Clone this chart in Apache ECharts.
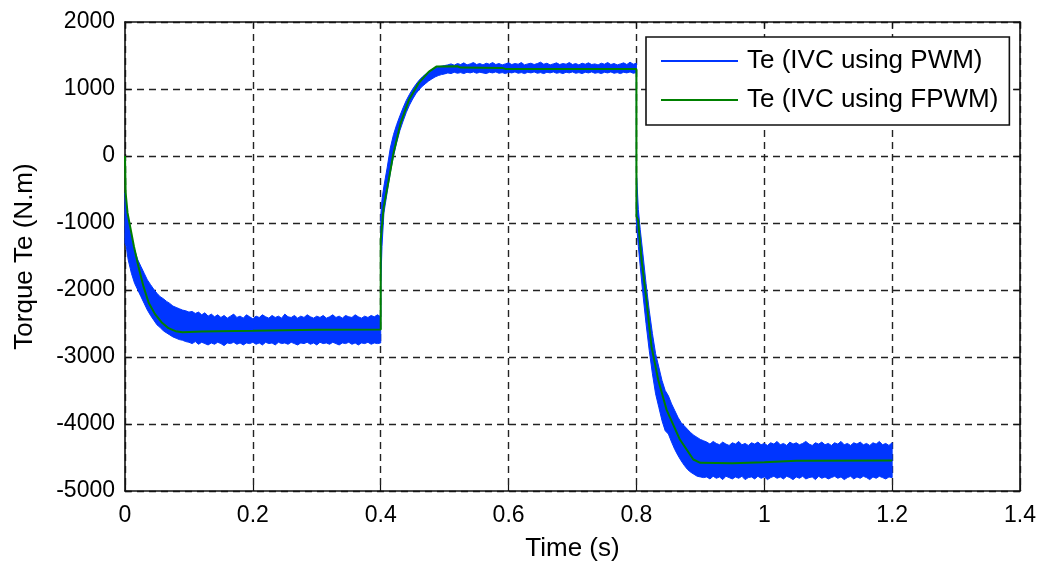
<!DOCTYPE html>
<html>
<head>
<meta charset="utf-8">
<script src="https://cdn.jsdelivr.net/npm/echarts@6/dist/echarts.min.js"></script>
<style>
html,body{margin:0;padding:0;background:#fff;}
#chart{width:1042px;height:572px;}
</style>
</head>
<body>
<div id="chart"></div>
<script>
// ---------- data ----------
var xTicks = [0, 0.2, 0.4, 0.6, 0.8, 1, 1.2, 1.4];
var yTicks = [-5000, -4000, -3000, -2000, -1000, 0, 1000, 2000];
var seriesNames = ['Te (IVC using PWM)', 'Te (IVC using FPWM)'];

// PWM torque: noisy band, rows of [time, upper envelope, lower envelope]
var pwmPhase1 = [
[0,-550,-1300],[0.002,-700,-1350],[0.005,-950,-1550],[0.01,-1200,-1750],[0.015,-1400,-1900],
[0.02,-1550,-2000],[0.025,-1650,-2100],[0.03,-1750,-2200],[0.035,-1850,-2300],[0.04,-1920,-2380],
[0.045,-1990,-2450],[0.05,-2050,-2520],[0.055,-2100,-2560],[0.06,-2130,-2610],[0.065,-2170,-2640],
[0.07,-2200,-2670],[0.075,-2240,-2700],[0.08,-2260,-2720],[0.085,-2280,-2740],[0.09,-2300,-2750],
[0.095,-2310,-2770],[0.1,-2330,-2780],
[0.105,-2320,-2800],[0.11,-2350,-2770],[0.115,-2330,-2810],[0.12,-2370,-2780],[0.125,-2340,-2800],
[0.13,-2390,-2820],[0.135,-2360,-2790],[0.14,-2400,-2810],[0.145,-2370,-2780],[0.15,-2410,-2800],
[0.155,-2380,-2830],[0.16,-2420,-2790],[0.165,-2390,-2800],[0.17,-2360,-2780],[0.175,-2410,-2810],
[0.18,-2390,-2790],[0.185,-2420,-2820],[0.19,-2370,-2790],[0.195,-2400,-2800],[0.2,-2430,-2780],
[0.205,-2390,-2810],[0.21,-2410,-2790],[0.215,-2370,-2820],[0.22,-2400,-2780],[0.225,-2420,-2800],
[0.23,-2380,-2790],[0.235,-2410,-2820],[0.24,-2390,-2780],[0.245,-2420,-2800],[0.25,-2360,-2790],
[0.255,-2400,-2810],[0.26,-2410,-2780],[0.265,-2380,-2800],[0.27,-2420,-2820],[0.275,-2390,-2790],
[0.28,-2410,-2800],[0.285,-2370,-2780],[0.29,-2400,-2810],[0.295,-2420,-2790],[0.3,-2390,-2820],
[0.305,-2410,-2780],[0.31,-2380,-2800],[0.315,-2420,-2790],[0.32,-2400,-2810],[0.325,-2370,-2780],
[0.33,-2410,-2800],[0.335,-2390,-2820],[0.34,-2420,-2790],[0.345,-2380,-2800],[0.35,-2400,-2780],
[0.355,-2410,-2810],[0.36,-2370,-2790],[0.365,-2400,-2820],[0.37,-2420,-2790],[0.375,-2390,-2800],
[0.38,-2410,-2780],[0.385,-2380,-2810],[0.39,-2400,-2790],[0.395,-2370,-2800],[0.4,-2400,-2790]
];
var pwmPhase2 = [
[0.4,-900,-1950],[0.402,-650,-1350],[0.405,-450,-850],[0.41,-180,-550],[0.415,120,-250],
[0.42,320,0],[0.425,470,200],[0.43,600,380],[0.435,720,520],[0.44,830,650],
[0.445,920,760],[0.45,1000,850],[0.455,1070,930],[0.46,1130,990],[0.465,1180,1040],
[0.47,1220,1080],[0.475,1260,1120],[0.48,1290,1150],[0.485,1310,1180],[0.49,1330,1200],
[0.495,1340,1215],[0.5,1350,1225],
[0.505,1360,1240],[0.51,1375,1230],[0.515,1355,1250],[0.52,1380,1235],[0.525,1365,1245],
[0.53,1390,1230],[0.535,1360,1250],[0.54,1375,1240],[0.545,1395,1255],[0.55,1365,1235],
[0.555,1380,1250],[0.56,1360,1240],[0.565,1385,1230],[0.57,1370,1250],[0.575,1395,1240],
[0.58,1365,1255],[0.585,1380,1235],[0.59,1360,1245],[0.595,1375,1230],[0.6,1390,1250],
[0.605,1365,1240],[0.61,1380,1255],[0.615,1370,1235],[0.62,1395,1245],[0.625,1360,1230],
[0.63,1375,1250],[0.635,1385,1240],[0.64,1365,1255],[0.645,1380,1235],[0.65,1400,1245],
[0.655,1370,1230],[0.66,1385,1250],[0.665,1360,1240],[0.67,1375,1255],[0.675,1390,1235],
[0.68,1365,1245],[0.685,1380,1230],[0.69,1370,1250],[0.695,1395,1240],[0.7,1365,1255],
[0.705,1380,1235],[0.71,1360,1245],[0.715,1385,1230],[0.72,1370,1250],[0.725,1390,1240],
[0.73,1365,1255],[0.735,1375,1235],[0.74,1360,1245],[0.745,1385,1230],[0.75,1370,1250],
[0.755,1395,1240],[0.76,1365,1255],[0.765,1380,1235],[0.77,1360,1245],[0.775,1375,1230],
[0.78,1390,1250],[0.785,1365,1240],[0.79,1400,1255],[0.795,1370,1235],[0.8,1385,1245]
];
var pwmPhase3 = [
[0.8,-230,-1000],[0.803,-800,-1350],[0.806,-1100,-1650],[0.81,-1450,-2050],[0.815,-1900,-2500],
[0.82,-2300,-2900],[0.825,-2650,-3250],[0.83,-2950,-3550],[0.835,-3150,-3750],[0.84,-3350,-3950],
[0.845,-3500,-4100],[0.85,-3580,-4150],[0.855,-3700,-4270],[0.86,-3800,-4380],[0.865,-3900,-4470],
[0.87,-3980,-4550],[0.875,-4030,-4620],[0.88,-4080,-4680],[0.885,-4130,-4720],[0.89,-4170,-4750],
[0.895,-4200,-4780],[0.9,-4230,-4790],[0.905,-4250,-4800],[0.91,-4270,-4790],
[0.915,-4300,-4820],[0.92,-4260,-4780],[0.925,-4290,-4810],[0.93,-4310,-4790],[0.935,-4270,-4830],
[0.94,-4300,-4780],[0.945,-4320,-4800],[0.95,-4280,-4820],[0.955,-4300,-4790],[0.96,-4260,-4810],
[0.965,-4310,-4780],[0.97,-4290,-4830],[0.975,-4320,-4800],[0.98,-4280,-4790],[0.985,-4300,-4820],
[0.99,-4270,-4780],[0.995,-4310,-4810],[1.0,-4290,-4790],[1.005,-4320,-4830],[1.01,-4280,-4800],
[1.015,-4300,-4780],[1.02,-4260,-4810],[1.025,-4310,-4790],[1.03,-4290,-4820],[1.035,-4320,-4780],
[1.04,-4270,-4800],[1.045,-4300,-4830],[1.05,-4280,-4790],[1.055,-4310,-4810],[1.06,-4290,-4780],
[1.065,-4260,-4820],[1.07,-4300,-4800],[1.075,-4320,-4790],[1.08,-4280,-4830],[1.085,-4300,-4780],
[1.09,-4270,-4810],[1.095,-4310,-4790],[1.1,-4290,-4820],[1.105,-4320,-4800],[1.11,-4280,-4780],
[1.115,-4300,-4810],[1.12,-4260,-4790],[1.125,-4310,-4830],[1.13,-4290,-4800],[1.135,-4320,-4780],
[1.14,-4280,-4820],[1.145,-4300,-4790],[1.15,-4270,-4810],[1.155,-4310,-4780],[1.16,-4290,-4800],
[1.165,-4320,-4830],[1.17,-4280,-4790],[1.175,-4300,-4810],[1.18,-4260,-4780],[1.185,-4310,-4800],
[1.19,-4290,-4820],[1.195,-4320,-4790],[1.2,-4280,-4800]
];

// FPWM torque: [time, value]
var fpwmTorque = [
[0,0],[0.001,-550],[0.004,-850],[0.008,-1050],[0.014,-1350],[0.021,-1650],[0.029,-1950],
[0.037,-2190],[0.047,-2360],[0.058,-2490],[0.068,-2570],[0.079,-2615],[0.09,-2630],
[0.12,-2620],[0.2,-2610],[0.3,-2595],[0.4,-2590],
[0.4,-1250],[0.4047,-755],[0.4125,-358],[0.42,45],[0.431,487],[0.444,835],[0.459,1083],
[0.475,1256],[0.487,1335],[0.52,1340],[0.525,1320],[0.59,1315],[0.595,1300],[0.8,1300],
[0.8,-900],[0.8025,-954],[0.808,-1550],[0.8156,-2146],[0.8235,-2842],[0.834,-3338],
[0.847,-3785],[0.868,-4232],[0.889,-4530],[0.9,-4580],[0.95,-4585],[1.0,-4570],
[1.05,-4550],[1.2,-4545]
];

// ---------- chart ----------
var BLUE = '#0035ff', GREEN = '#008000';
var FONT = '"Liberation Sans", Arial, sans-serif';
var pwmRows = pwmPhase1.concat(pwmPhase2, pwmPhase3);

var chart = echarts.init(document.getElementById('chart'), null, {renderer: 'canvas'});
var gridLine = {show: true, lineStyle: {color: '#222', width: 1.4, type: [7, 5]}};
var axisLineStyle = {show: true, onZero: false, lineStyle: {color: '#111', width: 1.6}};
var tickIn = {show: true, inside: true, length: 6, lineStyle: {color: '#111', width: 1.2}};
var labelStyle = {color: '#000', fontFamily: FONT, fontSize: 23};
var nameStyle = {color: '#000', fontFamily: FONT, fontSize: 26};

chart.setOption({
  animation: false,
  backgroundColor: '#fff',
  grid: {left: 125, right: 22, top: 22, bottom: 81, containLabel: false},
  legend: {
    orient: 'vertical', left: 646, top: 37,
    padding: [11, 11, 12, 15],
    itemGap: 13, itemWidth: 77, itemHeight: 2,
    backgroundColor: '#fff', borderColor: '#111', borderWidth: 1.6,
    textStyle: {color: '#000', fontFamily: FONT, fontSize: 26, padding: [0, 0, 0, 4]},
    data: [{name: seriesNames[0], icon: 'rect'}, {name: seriesNames[1], icon: 'rect'}]
  },
  xAxis: [{
    type: 'value', min: xTicks[0], max: xTicks[xTicks.length - 1], interval: 0.2,
    position: 'bottom',
    name: 'Time (s)', nameLocation: 'middle', nameGap: 45,
    nameTextStyle: nameStyle,
    axisLine: axisLineStyle, axisTick: tickIn,
    axisLabel: Object.assign({margin: 13, formatter: function (v) { return String(+v.toFixed(1)); }}, labelStyle),
    splitLine: gridLine
  }, {
    type: 'value', min: xTicks[0], max: xTicks[xTicks.length - 1], interval: 0.2,
    position: 'top', axisLine: axisLineStyle, axisTick: tickIn,
    axisLabel: {show: false}, splitLine: {show: false}
  }],
  yAxis: [{
    type: 'value', min: yTicks[0], max: yTicks[yTicks.length - 1], interval: 1000,
    position: 'left',
    name: 'Torque Te (N.m)', nameLocation: 'middle', nameGap: 87, nameRotate: 90,
    nameTextStyle: nameStyle,
    axisLine: axisLineStyle, axisTick: tickIn,
    axisLabel: Object.assign({margin: 10, formatter: function (v) { return String(Math.round(v)); }}, labelStyle),
    splitLine: gridLine
  }, {
    type: 'value', min: yTicks[0], max: yTicks[yTicks.length - 1], interval: 1000,
    position: 'right', axisLine: axisLineStyle, axisTick: tickIn,
    axisLabel: {show: false}, splitLine: {show: false}
  }],
  series: [{
    name: seriesNames[0],
    type: 'custom',
    xAxisIndex: 0, yAxisIndex: 0,
    itemStyle: {color: BLUE},
    encode: {x: 0, y: [1, 2]},
    data: pwmRows,
    z: 2,
    renderItem: function (params, api) {
      if (params.dataIndex !== 0) return null;
      var up = [], lo = [];
      for (var i = 0; i < pwmRows.length; i++) {
        up.push(api.coord([pwmRows[i][0], pwmRows[i][1]]));
        lo.push(api.coord([pwmRows[i][0], pwmRows[i][2]]));
      }
      return {
        type: 'polygon',
        shape: {points: up.concat(lo.reverse())},
        style: {fill: BLUE, stroke: BLUE, lineWidth: 1}
      };
    }
  }, {
    name: seriesNames[1],
    type: 'line',
    xAxisIndex: 0, yAxisIndex: 0,
    data: fpwmTorque,
    showSymbol: false, symbol: 'none',
    lineStyle: {color: GREEN, width: 2},
    itemStyle: {color: GREEN},
    z: 3
  }]
});
</script>
</body>
</html>
